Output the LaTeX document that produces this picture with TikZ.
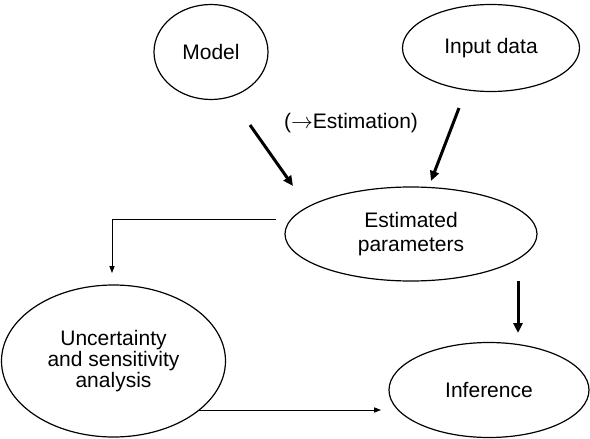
\documentclass[tikz,border=0pt]{standalone}
\usepackage{fontspec}
\setmainfont{Liberation Sans}
\usetikzlibrary{shapes.geometric,arrows.meta,positioning,calc}

\begin{document}
\begin{tikzpicture}[x=0.5pt,y=-0.5pt, font=\fontsize{10.5}{11.5}\selectfont,
  oval/.style={draw,ellipse,line width=0.6pt,inner sep=0pt,align=center},
  thk/.style={line width=1.5pt,-{Triangle[length=5pt,width=4.5pt]}},
  thn/.style={line width=0.5pt,-{Triangle[length=3.5pt,width=2.6pt]}}]
  \useasboundingbox (0,0) rectangle (590,439);
  \node[oval,minimum width=57pt,minimum height=47.5pt](mdl) at (211,52){Model};
  \node[oval,minimum width=88.5pt,minimum height=43.5pt](inp) at (491,48){Input data};
  \node[oval,minimum width=126pt,minimum height=47pt,font=\fontsize{10.5}{12}\selectfont](est) at (411,234){Estimated\\parameters};
  \node[oval,minimum width=112pt,minimum height=76pt,font=\fontsize{10.5}{10.6}\selectfont](unc) at (113.5,361){Uncertainty\\and sensitivity\\analysis};
  \node[oval,minimum width=100pt,minimum height=47.5pt](inf) at (489,390){Inference};
  \node(lbl) at (351,123){($\rightarrow$Estimation)};
  % free ends of the connectors
  \coordinate(m1) at (250,125); \coordinate(m2) at (293,186);
  \coordinate(i1) at (459,108); \coordinate(i2) at (431,181);
  \coordinate(e1) at (518,281); \coordinate(e2) at (518,333);
  \coordinate(p1) at (276,219); \coordinate(u1) at (112,273);
  \coordinate(u2) at (198,410); \coordinate(f1) at (381,410);
  \draw[thk](m1)--(m2);\draw[thk](i1)--(i2);\draw[thk](e1)--(e2);
  \draw[thn](p1)-|(u1);
  \draw[thn](u2)--(f1);
\end{tikzpicture}
\end{document}
